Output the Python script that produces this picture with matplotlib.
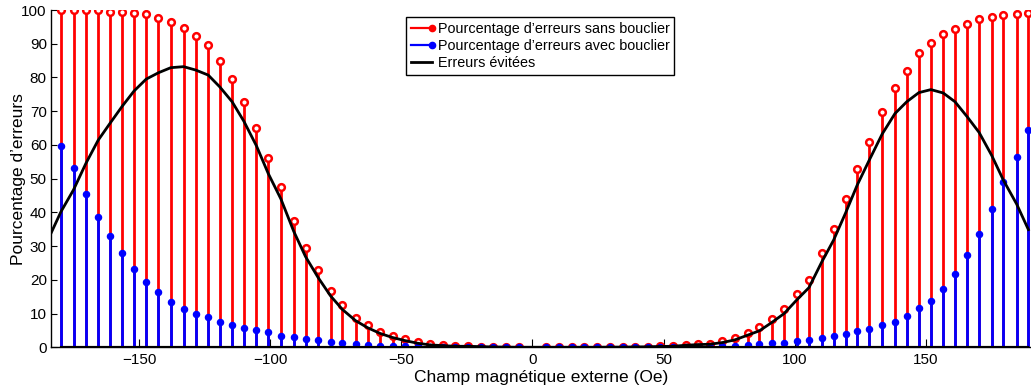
import numpy as np
import matplotlib
matplotlib.use("Agg")
import matplotlib.pyplot as plt
from matplotlib.lines import Line2D

plt.rcParams['font.family'] = ['Liberation Sans', 'DejaVu Sans']

# Champ magnetique (Oe)
champ = np.array([
    -184.6, -179.9, -175.1, -170.4, -165.7, -161.1, -156.5, -152.0, -147.4, -142.7,
    -138.0, -133.1, -128.5, -123.7, -119.3, -114.6, -110.1, -105.3, -100.8, -96.0,
    -91.1, -86.6, -81.8, -77.0, -72.5, -67.5, -62.9, -58.1, -53.4, -48.7,
    -43.8, -39.0, -34.3, -29.5, -24.6, -19.8, -15.0, -10.0, -5.2,
    5.1, 10.0, 14.9, 19.7, 24.6, 29.5, 34.4, 39.1, 43.9, 48.7,
    53.6, 58.4, 63.0, 67.6, 72.4, 77.2, 82.1, 86.6, 91.2, 96.0,
    100.9, 105.5, 110.3, 114.9, 119.5, 123.9, 128.5, 133.4, 138.3, 142.8,
    147.4, 152.0, 156.7, 161.2, 165.8, 170.4, 175.2, 179.7, 184.7, 189.2])

# Pourcentage d'erreurs sans bouclier
sans_bouclier = np.array([
    99.9, 99.9, 99.9, 99.9, 99.9, 99.5, 99.5, 99.2, 98.9, 97.7,
    96.4, 94.6, 92.2, 89.6, 84.8, 79.5, 72.8, 64.9, 56.0, 47.4,
    37.5, 29.5, 22.9, 16.7, 12.5, 8.8, 6.6, 4.6, 3.4, 2.4,
    1.5, 0.9, 0.6, 0.4, 0.3, 0.2, 0.1, 0.05, 0.0,
    0.0, 0.0, 0.0, 0.0, 0.0, 0.05, 0.05, 0.1, 0.2, 0.3,
    0.4, 0.7, 1.0, 1.1, 1.8, 2.7, 4.3, 5.9, 8.5, 11.4,
    15.9, 20.0, 28.0, 35.1, 43.9, 52.8, 61.0, 69.7, 76.9, 82.0,
    87.2, 90.2, 92.8, 94.5, 95.9, 97.2, 98.0, 98.6, 98.9, 99.2])

# Pourcentage d'erreurs avec bouclier
avec_bouclier = np.array([
    67.6, 59.7, 53.2, 45.4, 38.5, 33.0, 28.0, 23.2, 19.4, 16.3,
    13.5, 11.4, 10.0, 8.9, 7.6, 6.7, 5.8, 5.2, 4.5, 3.4,
    3.1, 2.6, 2.2, 1.5, 1.3, 0.9, 0.8, 0.5, 0.5, 0.4,
    0.3, 0.2, 0.1, 0.1, 0.0, 0.0, 0.0, 0.0, 0.0,
    0.0, 0.0, 0.0, 0.0, 0.0, 0.0, 0.0, 0.0, 0.05, 0.05,
    0.1, 0.1, 0.2, 0.2, 0.4, 0.5, 0.7, 1.0, 1.2, 1.4,
    1.8, 2.3, 2.8, 3.3, 4.0, 4.7, 5.5, 6.5, 7.6, 9.2,
    11.7, 13.8, 17.4, 21.7, 27.5, 33.5, 41.1, 49.1, 56.4, 64.3])

# Erreurs evitees = difference des deux
evitees = sans_bouclier - avec_bouclier

xlim = (-183.7, 190.2)
xticks = [-150, -100, -50, 0, 50, 100, 150]
yticks = np.arange(0, 101, 10)

# les points hors du cadre ne sont pas montres en tiges
vis = (champ >= xlim[0]) & (champ <= xlim[1])

fig = plt.figure(figsize=(10.31, 3.88), dpi=100)
ax = fig.add_axes([51 / 1031, 40.7 / 388, 980 / 1031, 337.3 / 388])

m1, s1, b1 = ax.stem(champ[vis], sans_bouclier[vis], linefmt='r-', markerfmt='ro', basefmt='k-')
s1.set_linewidth(2.0)
m1.set_markersize(4.8)
m1.set_markerfacecolor('white')
m1.set_markeredgewidth(1.8)
b1.set_linewidth(1.5)

m2, s2, b2 = ax.stem(champ[vis], avec_bouclier[vis], linefmt='b-', markerfmt='bo', basefmt='k-')
s2.set_linewidth(2.0)
m2.set_markersize(4.4)
m2.set_markeredgewidth(1.0)
b2.set_linewidth(1.5)

ax.plot(champ, evitees, color='k', lw=2)

ax.set_xlim(*xlim)
ax.set_ylim(0, 100)
ax.set_xticks(xticks)
ax.set_yticks(yticks)
ax.tick_params(axis='x', direction='in', length=6, width=0.8, labelsize=11, pad=4)
ax.tick_params(axis='y', direction='in', length=4.5, width=0.8, labelsize=11, pad=3)
ax.spines['top'].set_visible(False)
ax.spines['right'].set_visible(False)
ax.spines['left'].set_linewidth(1.0)
ax.spines['bottom'].set_linewidth(1.0)

ax.set_xlabel('Champ magnétique externe (Oe)', fontsize=12.5, labelpad=2)
ax.set_ylabel('Pourcentage d\u2019erreurs', fontsize=12.5, labelpad=-3)

handles = [
    Line2D([], [], color='r', lw=1.6, marker='o', ms=4.5),
    Line2D([], [], color='b', lw=1.6, marker='o', ms=4.5),
    Line2D([], [], color='k', lw=2),
]
labels = ['Pourcentage d\u2019erreurs sans bouclier',
          'Pourcentage d\u2019erreurs avec bouclier',
          'Erreurs évitées']
leg = ax.legend(handles, labels, loc='upper left', bbox_to_anchor=(0.362, 0.978),
                borderaxespad=0, fontsize=10.4, fancybox=False, edgecolor='k',
                framealpha=1, handlelength=1.5, handletextpad=0.35,
                labelspacing=0.2, borderpad=0.35, numpoints=1)
leg.get_frame().set_linewidth(1.0)
for ln in leg.get_lines():
    ln.set_markevery([2])

fig.savefig('out.png', dpi=100)
